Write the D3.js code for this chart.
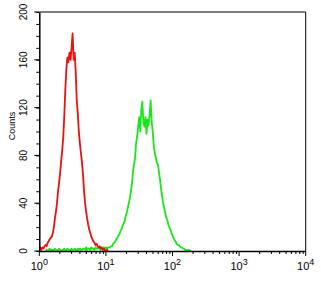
<!DOCTYPE html>
<html><head><meta charset="utf-8">
<script src="https://cdn.jsdelivr.net/npm/d3@7/dist/d3.min.js"></script>
<style>body{margin:0;background:#fff}svg{display:block}text{font-family:"Liberation Sans",Arial,sans-serif}</style>
</head><body><svg id="c" width="321" height="288"></svg>
<script>
// instrument scale: 64 channels per decade, channel 0 = 10^0
const channelsPerDecade = 64;
const redStart = 0;
const redCounts = [2,3,1,3,2,4,5,4,7,8,10,11,12,15,20,27,33,40,50,57,65,75,84,95,113,135,152,162,158,166,160,170,182,160,166,150,126,115,100,90,82,74,64,50,40,33,27,22,18,15,12,10,8,7,5,6,4,3,4,2,3,1,2,1,0,1,0];
const greenStart = 6;
const greenCounts = [0,1,0,1,2,0,1,1,0,2,1,0,1,2,1,0,1,1,2,0,1,2,1,1,0,2,1,1,2,1,0,2,1,2,1,1,2,2,1,3,1,2,2,1,3,2,2,1,3,2,2,3,2,1,3,2,3,2,3,2,3,3,
  3,4,4,6,7,8,10,11,13,14,17,18,21,23,25,29,32,36,40,44,50,56,66,72,78,90,96,104,112,100,118,125,108,104,112,98,110,105,114,126,108,100,88,82,78,74,72,66,60,52,46,40,36,32,28,26,22,20,18,15,13,11,9,8,6,5,5,4,3,3,2,2,1,1,1,0,1,0,0];
const yTicks = [0,40,80,120,160,200];
const xDecades = [0,1,2,3,4];

const svg = d3.select("#c");
const L=39.3,R=305.7,T=12,B=251;
const x = d3.scaleLog().domain([1,1e4]).range([L,R]);
const y = d3.scaleLinear().domain([0,200]).range([B,T]);
const chToVal = c => Math.pow(10, c/channelsPerDecade);

// frame
svg.append("line").attr("x1",L).attr("x2",R).attr("y1",T).attr("y2",T).attr("stroke","#000").attr("stroke-width",1);
svg.append("line").attr("x1",R).attr("x2",R).attr("y1",T).attr("y2",B).attr("stroke","#000").attr("stroke-width",1);

// curves
const line = d3.line().x(d=>x(d[0])).y(d=>y(d[1]));
function series(start, counts){ return counts.map((v,i)=>[chToVal(start+i), v]); }
svg.append("path").datum(series(greenStart,greenCounts)).attr("d",line).attr("fill","none").attr("stroke","#1ae61a").attr("stroke-width",1.8).attr("stroke-linejoin","round");
svg.append("path").datum(series(redStart,redCounts)).attr("d",line).attr("fill","none").attr("stroke","#ec1010").attr("stroke-width",1.8).attr("stroke-linejoin","round");

// y axis
const yMinor = d3.range(0,201,10);
const ya = svg.append("g").attr("transform",`translate(${L},0)`);
ya.call(d3.axisLeft(y).tickValues(yMinor).tickSize(3).tickSizeOuter(0).tickFormat(""));
ya.selectAll(".major").data(yTicks).join("line").attr("class","major").attr("x1",0).attr("x2",-5).attr("y1",d=>y(d)).attr("y2",d=>y(d)).attr("stroke","#000");
ya.select(".domain").attr("stroke-width",1.5);
svg.append("g").selectAll("text").data(yTicks).join("text")
  .attr("transform",d=>`translate(27,${y(d)}) rotate(-90)`)
  .attr("text-anchor","middle").attr("font-size",10).text(d=>d);
svg.append("text").attr("transform",`translate(15,126) rotate(-90)`).attr("text-anchor","middle").attr("font-size",9).text("Counts");

// x axis
const xMinor = [];
xDecades.slice(0,-1).forEach(e=>{for(let k=2;k<10;k++) xMinor.push(k*Math.pow(10,e));});
const xa = svg.append("g").attr("transform",`translate(0,${B})`);
xa.call(d3.axisBottom(x).tickValues(xMinor).tickSize(3).tickSizeOuter(0).tickFormat(""));
xa.selectAll(".major").data(xDecades).join("line").attr("class","major").attr("x1",d=>x(Math.pow(10,d))).attr("x2",d=>x(Math.pow(10,d))).attr("y1",0).attr("y2",5).attr("stroke","#000");
xa.select(".domain").attr("stroke-width",1.5);
const xl = svg.append("g").selectAll("text").data(xDecades).join("text")
  .attr("x",d=>x(Math.pow(10,d))).attr("y",270).attr("text-anchor","middle").attr("font-size",11);
xl.append("tspan").text("10");
xl.append("tspan").attr("dy",-5).attr("font-size",9).text(d=>d);
</script></body></html>
